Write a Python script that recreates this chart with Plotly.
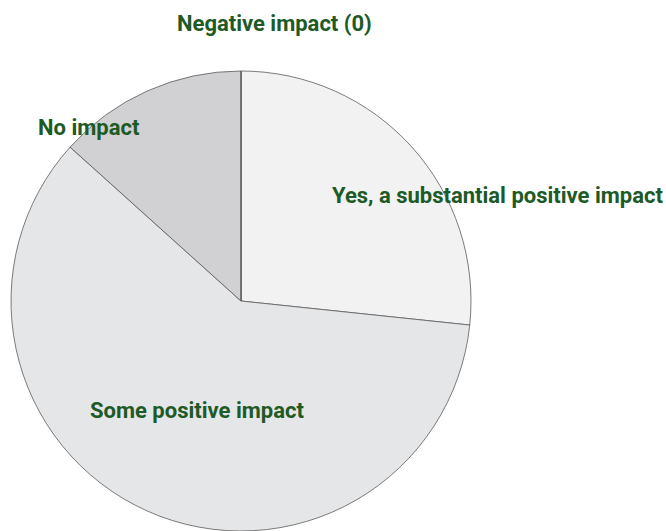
import plotly.graph_objects as go

labels = ["Yes, a substantial positive impact", "Some positive impact", "No impact", "Negative impact"]
values = [4, 9, 2, 0]
colors = ["#f2f2f2", "#e5e6e8", "#d1d1d3", "#bdbdbf"]
label_texts = ["Yes, a substantial positive impact", "Some positive impact", "No impact", "Negative impact (0)"]

W, H = 666, 531
fig = go.Figure(go.Pie(
    labels=labels, values=values, sort=False, direction="clockwise", rotation=0,
    marker=dict(colors=colors, line=dict(color="#5a5a5a", width=0.8)),
    textinfo="none", hoverinfo="label+value", showlegend=False,
    domain=dict(x=[11 / W, 471 / W], y=[0, 460 / H]),
))

# label anchor positions (pixel centers)
pos = [(497, 195), (197, 410), (89, 127), (274, 23)]
for t, (px, py) in zip(label_texts, pos):
    fig.add_annotation(text=f"<b>{t}</b>", x=px / W, y=1 - py / H, xref="paper", yref="paper",
                       showarrow=False, xanchor="center", yanchor="middle",
                       font=dict(family="Roboto", size=22, color="#1d5a26"))

fig.update_layout(width=W, height=H, margin=dict(l=0, r=0, t=0, b=0),
                  paper_bgcolor="white", plot_bgcolor="white")
fig.write_html("out.html")
